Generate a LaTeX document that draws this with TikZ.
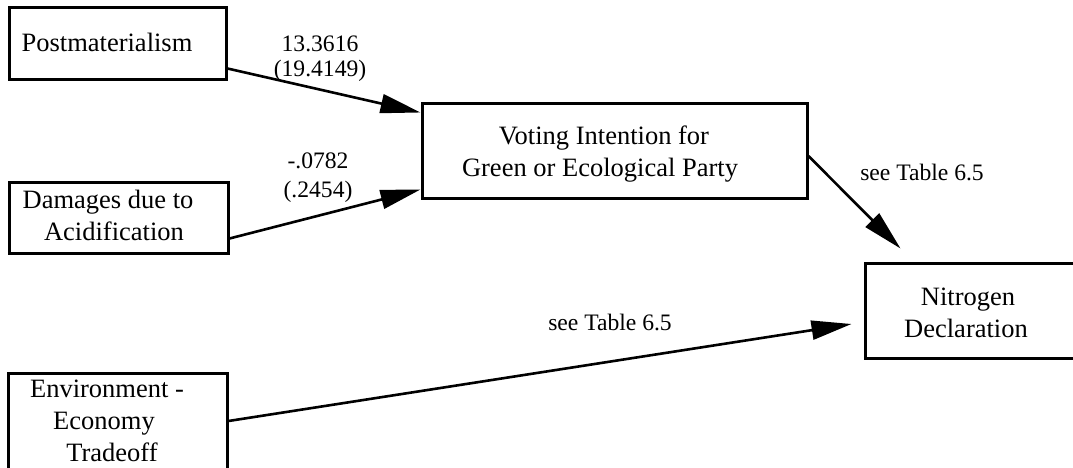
\documentclass[tikz,border=0pt]{standalone}
\usepackage{fontspec}
\setmainfont{Liberation Serif}
\usetikzlibrary{arrows.meta}

\tikzset{
  box/.style={draw=black, line width=3pt, inner sep=0pt, fill=white},
  boxtext/.style={inner sep=0pt, anchor=base, font=\fontsize{26.5}{31.8}\selectfont},
  coef/.style={inner sep=0pt, anchor=base, font=\fontsize{23.6}{28}\selectfont},
  path arrow/.style={line width=2.6pt, -{Triangle[length=40pt,width=19pt]}},
}

\begin{document}
\begin{tikzpicture}[x=1pt, y=-1pt]
  \useasboundingbox (0,0) rectangle (1073,468);
  \fill[white] (0,0) rectangle (1073,468);
  \clip (0,0) rectangle (1073,468);

  % boxes
  \node[box, minimum width=217pt, minimum height=72pt] (pm)  at (117.5,44)  {};
  \node[box, minimum width=219pt, minimum height=71pt] (dmg) at (118.5,217.5) {};
  \node[box, minimum width=219pt, minimum height=96pt] (env) at (117.5,421) {};
  \node[box, minimum width=385pt, minimum height=94pt] (vote) at (614.5,151) {};
  \node[box, minimum width=215pt, minimum height=95pt] (nit) at (972.5,310.5) {};

  % box texts
  \node[boxtext] (pmt)   at (107,52)  {Postmaterialism};
  \node[boxtext] (dmgt1) at (108,208) {Damages due to};
  \node[boxtext] (dmgt2) at (114,240) {Acidification};
  \node[boxtext] (envt1) at (107,397) {Environment -};
  \node[boxtext] (envt2) at (104,429) {Economy};
  \node[boxtext] (envt3) at (112,461) {Tradeoff};
  \node[boxtext] (votet1) at (604,144) {Voting Intention for};
  \node[boxtext] (votet2) at (600,176) {Green or Ecological Party};
  \node[boxtext] (nitt1) at (968,305) {Nitrogen};
  \node[boxtext] (nitt2) at (966,337) {Declaration};

  % paths
  \draw[path arrow] ([yshift=13pt]pm.south east) -- ([yshift=-10pt]vote.north west);
  \draw[path arrow] ([yshift=16pt]dmg.south east) -- ([yshift=10pt]vote.south west);
  \draw[path arrow] ([yshift=-5pt]vote.east) -- ([xshift=37pt,yshift=13pt]nit.north west);
  \draw[path arrow] (env.east) -- ([xshift=-12pt,yshift=-13.5pt]nit.west);

  % coefficients
  \node[coef] (c1a) at (320,52)  {13.3616};
  \node[coef] (c1b) at (320,77)  {(19.4149)};
  \node[coef] (c2a) at (318,168) {-.0782};
  \node[coef] (c2b) at (318,197) {(.2454)};
  \node[coef] (c3)  at (922,180) {see Table 6.5};
  \node[coef] (c4)  at (610,330) {see Table 6.5};
\end{tikzpicture}
\end{document}
